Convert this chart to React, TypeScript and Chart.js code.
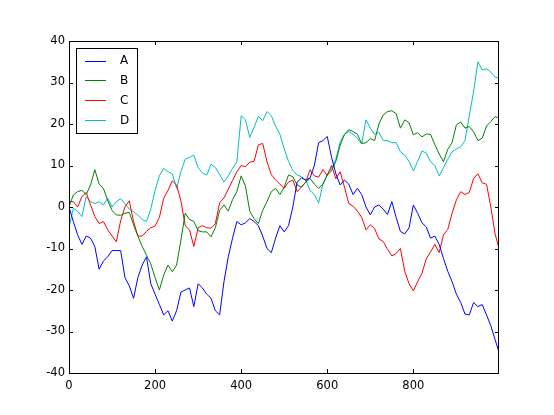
import React, { useEffect, useRef } from "react";
import { Chart, registerables } from "chart.js";

Chart.register(...registerables);

const steps = [
  0, 10, 20, 30, 40, 50, 60, 70, 80, 90,
  100, 110, 120, 130, 140, 150, 160, 170, 180, 190,
  200, 210, 220, 230, 240, 250, 260, 270, 280, 290,
  300, 310, 320, 330, 340, 350, 360, 370, 380, 390,
  400, 410, 420, 430, 440, 450, 460, 470, 480, 490,
  500, 510, 520, 530, 540, 550, 560, 570, 580, 590,
  600, 610, 620, 630, 640, 650, 660, 670, 680, 690,
  700, 710, 720, 730, 740, 750, 760, 770, 780, 790,
  800, 810, 820, 830, 840, 850, 860, 870, 880, 890,
  900, 910, 920, 930, 940, 950, 960, 970, 980, 990,
  999,
];

const seriesA = [
  0, -3.5, -6.7, -9, -7, -7.5, -9.5, -15, -13, -12,
  -10.5, -10.5, -10.5, -17, -19, -22, -17, -14, -12, -18.5,
  -21, -23.5, -26, -25, -27.5, -25, -20.5, -20, -19.5, -24,
  -18.5, -19.5, -21, -22, -25, -26, -18, -12, -7.5, -3.5,
  -4.3, -3.8, -2.8, -3.5, -4.5, -7, -10, -11, -7.5, -4.5,
  -6, -4.5, 0, 6, 7, 6.5, 7, 10, 15.5, 16,
  17, 12, 8, 5.3, 6.5, 5.5, 3, 4.5, 3, 0,
  -1.9, 0, 0.5, -0.5, -1.8, 1.3, -2.5, -5.9, -6.5, -5,
  0.5, -1.5, -3.8, -4.8, -7.5, -7, -9, -12.4, -15.5, -18,
  -21, -23, -25.8, -26, -23, -24, -23.5, -26, -28.6, -32,
  -35,
];

const seriesB = [
  0, 2.9, 3.7, 4, 3, 5.3, 9, 5.5, 4.5, 1.5,
  -0.8, -1.9, -2, -1.5, -1.3, -4.3, -7, -9.5, -11.6, -13.7,
  -17, -20, -16.4, -14, -15.6, -14, -8, -1.5, -3, -3.5,
  -5.7, -6, -6, -7.2, -5, -0.8, 0.5, -1, 1.8, 3.7,
  7.5, 5, -1, -2.8, -4, -0.8, 1.3, 3.7, 4.5, 3,
  4.8, 7.7, 7.3, 5.3, 4.8, 6, 6.9, 5.5, 4.5, 5.5,
  7.7, 8.7, 11, 14.9, 17.5, 18.6, 18.2, 17.5, 15.3, 15.5,
  16.5, 16, 20, 22.2, 23, 23.2, 22.5, 19, 21, 20.3,
  17.4, 17.9, 16.9, 17.6, 17.5, 15, 12.8, 10.9, 13.9, 15.5,
  19.8, 20.5, 19, 19.4, 18.1, 16, 16.6, 19.5, 20.6, 21.8,
  21.4,
];

const seriesC = [
  1.3, 1.3, 0, 2.5, 3.5, 0.5, -2.3, -4, -3.5, -5.5,
  -7, -8.4, -3.3, 0, 1.5, -3.5, -7, -7, -5.9, -5,
  -4.6, -2.5, 2.1, 4, 6.3, 5.3, 1.5, -4.5, -5.5, -9.5,
  -5, -4.5, -5, -5.1, -4, 1, 2.2, 4.3, 6.4, 8.5,
  10, 9.7, 10.8, 11, 15, 15.3, 10.9, 7.8, 6.5, 5.5,
  4.5, 6, 6.5, 3.7, 4.8, 6, 9, 7.5, 7.2, 9,
  7.6, 10, 6.8, 8.5, 4.8, 0.8, 0.2, -1, -2.5, -5.5,
  -4.3, -5.2, -7.7, -8.3, -10.2, -11.8, -11.2, -10, -15.5, -18.5,
  -20.2, -18, -16, -12.5, -10.8, -9, -11, -6.7, -5.4, -1.5,
  1.7, 3.7, 3, 3.5, 6.9, 8, 5.8, 5.5, 0, -6.5,
  -10,
];

const seriesD = [
  -5, -0.3, -1, -2.3, 2.5, 1.3, 0.8, 1.3, 0.5, 2.1,
  0, 1.3, 2, 0.8, -0.5, -1.1, -2, -3, -3.5, -0.5,
  4, 7.5, 9.3, 8.5, 8, 4.5, 8.5, 11.5, 12, 12.5,
  9.5, 8.2, 7.7, 10.3, 9.5, 7.9, 6, 7.5, 9.3, 10.9,
  22, 21, 16.8, 19.2, 21.8, 20.8, 23, 22, 19.5, 17.5,
  14, 11, 8.8, 7.7, 7.3, 6.5, 4, 3, 1, 5.5,
  7.9, 9.3, 11.5, 15.7, 17.5, 18.2, 17.5, 16.5, 15.2, 21,
  19, 17.5, 18, 16, 16, 15.5, 15.5, 13.3, 12.5, 11,
  8.7, 11, 13.5, 13, 10.9, 10, 7.5, 9.5, 11.5, 13.3,
  14, 14.5, 16, 22, 27.8, 35, 33, 33.3, 32.5, 31.3,
  31,
];

const seriesLabels = ["A", "B", "C", "D"];
const seriesColors = ["#0000ff", "#008000", "#ff0000", "#00bfbf"];
const xTicks = [0, 200, 400, 600, 800];
const yTicks = [-40, -30, -20, -10, 0, 10, 20, 30, 40];

const tickFont = { family: "'DejaVu Sans', sans-serif", size: 11.5 };

const frameAndLegend = {
  id: "frameAndLegend",
  afterDraw(chart: any) {
    const ctx = chart.ctx;
    const { left, right, top, bottom } = chart.chartArea;
    const xs = chart.scales.x;
    const ys = chart.scales.y;
    ctx.save();
    ctx.strokeStyle = "#000";
    ctx.lineWidth = 1;
    ctx.strokeRect(left + 0.5, top + 0.5, right - left - 1, bottom - top);
    const tl = 4;
    ctx.beginPath();
    xTicks.forEach((v) => {
      const px = Math.round(xs.getPixelForValue(v)) + 0.5;
      ctx.moveTo(px, bottom);
      ctx.lineTo(px, bottom - tl);
      ctx.moveTo(px, top);
      ctx.lineTo(px, top + tl);
    });
    yTicks.forEach((v) => {
      const py = Math.round(ys.getPixelForValue(v)) + 0.5;
      ctx.moveTo(left, py);
      ctx.lineTo(left + tl, py);
      ctx.moveTo(right, py);
      ctx.lineTo(right - tl, py);
    });
    ctx.stroke();

    // legend
    const bx = left + 7;
    const by = top + 7;
    const bw = 61;
    const bh = 85;
    ctx.fillStyle = "#fff";
    ctx.fillRect(bx, by, bw, bh);
    ctx.strokeStyle = "#000";
    ctx.strokeRect(bx + 0.5, by + 0.5, bw, bh);
    ctx.font = "12px 'DejaVu Sans', sans-serif";
    ctx.textBaseline = "middle";
    ctx.textAlign = "left";
    chart.data.datasets.forEach((ds: any, i: number) => {
      const cy = by + 12.5 + i * 19.8;
      ctx.strokeStyle = ds.borderColor;
      ctx.lineWidth = 1;
      ctx.beginPath();
      ctx.moveTo(bx + 9, Math.round(cy) + 0.5);
      ctx.lineTo(bx + 30, Math.round(cy) + 0.5);
      ctx.stroke();
      ctx.fillStyle = "#000";
      ctx.fillText(ds.label, bx + 44, cy + 0.5);
    });
    ctx.restore();
  },
};

export default function App() {
  const ref = useRef<HTMLCanvasElement | null>(null);
  useEffect(() => {
    if (!ref.current) return;
    const all = [seriesA, seriesB, seriesC, seriesD];
    const chart = new Chart(ref.current, {
      type: "line",
      data: {
        datasets: all.map((vals, i) => ({
          label: seriesLabels[i],
          data: steps.map((x, k) => ({ x, y: vals[k] })),
          borderColor: seriesColors[i],
          backgroundColor: seriesColors[i],
          borderWidth: 1,
          pointRadius: 0,
          tension: 0,
          fill: false,
        })),
      },
      options: {
        animation: false,
        responsive: false,
        layout: { padding: { top: 41, right: 55, bottom: 0, left: 0 } },
        plugins: { legend: { display: false }, tooltip: { enabled: false } },
        scales: {
          x: {
            type: "linear",
            min: 0,
            max: 999,
            afterBuildTicks: (s: any) => {
              s.ticks = xTicks.map((v) => ({ value: v }));
            },
            afterFit: (s: any) => {
              s.height = 42;
            },
            grid: { display: false, drawTicks: false },
            border: { display: false },
            ticks: { font: tickFont, color: "#000", padding: 6, maxRotation: 0, autoSkip: false },
          },
          y: {
            type: "linear",
            min: -40,
            max: 40,
            afterBuildTicks: (s: any) => {
              s.ticks = yTicks.map((v) => ({ value: v }));
            },
            afterFit: (s: any) => {
              s.width = 69;
            },
            grid: { display: false, drawTicks: false },
            border: { display: false },
            ticks: { font: tickFont, color: "#000", padding: 4, autoSkip: false },
          },
        },
      },
      plugins: [frameAndLegend],
    } as any);
    return () => chart.destroy();
  }, []);
  return (
    <div style={{ position: "fixed", left: 0, top: 0, width: 554, height: 415, background: "#fff" }}>
      <canvas ref={ref} width={554} height={415} />
    </div>
  );
}
